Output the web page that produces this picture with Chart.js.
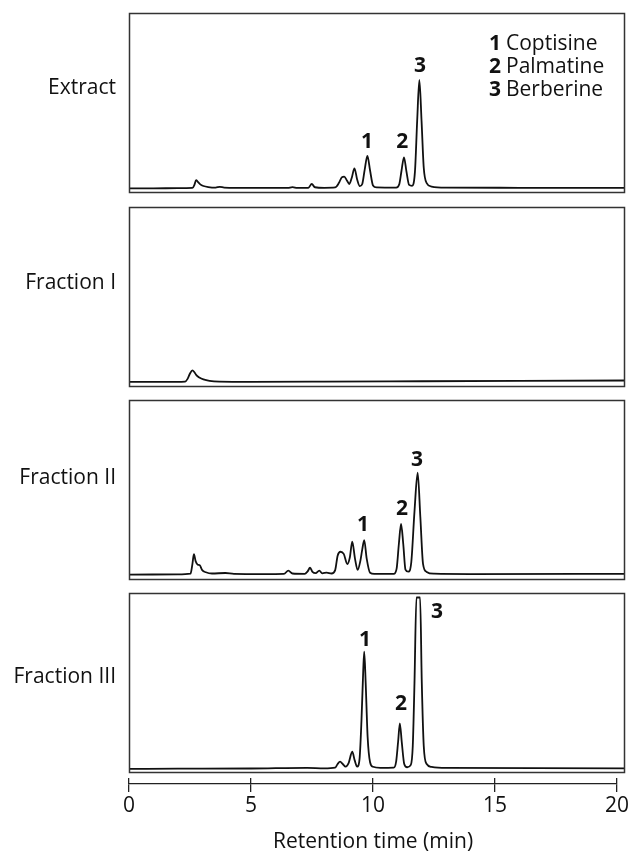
<!DOCTYPE html>
<html>
<head>
<meta charset="utf-8">
<script src="https://cdn.jsdelivr.net/npm/chart.js@4.4.1/dist/chart.umd.min.js"></script>
<style>
html,body{margin:0;padding:0;background:#fff;}
#wrap{position:relative;width:632px;height:851px;overflow:hidden;background:#fff;}
canvas{position:absolute;left:0;}
</style>
</head>
<body>
<div id="wrap">
<canvas id="p1" width="632" height="190"></canvas>
<canvas id="p2" width="632" height="190"></canvas>
<canvas id="p3" width="632" height="190"></canvas>
<canvas id="p4" width="632" height="190"></canvas>
<canvas id="axis" width="632" height="73"></canvas>
</div>
<script>
// ---------------- DATA ----------------
const panelNames = ['Extract', 'Fraction I', 'Fraction II', 'Fraction III'];
const compoundNumbers = ['1', '2', '3'];
const compoundNames = ['Coptisine', 'Palmatine', 'Berberine'];
const xTicks = [0, 5, 10, 15, 20];
const xTitle = 'Retention time (min)';

// Extract trace: retention time (min) and detector signal (relative units)
const extractTime   = [0.00,1.00,2.00,2.60,2.68,2.75,2.82,2.92,3.05,3.25,3.55,3.72,3.90,5.00,6.50,6.70,6.90,7.35,7.49,7.62,8.00,8.45,8.60,8.72,8.82,8.93,9.03,9.13,9.24,9.35,9.46,9.56,9.66,9.77,9.88,10.00,10.15,10.95,11.08,11.17,11.27,11.37,11.48,11.60,11.72,11.81,11.90,11.99,12.08,12.20,12.40,13.00,16.00,20.33];
const extractSignal = [2.6,2.6,2.7,2.8,4.5,7.2,6.2,4.8,3.9,3.3,3.0,3.4,3.0,2.8,2.8,3.3,2.8,2.9,5.0,3.2,2.9,3.1,5.5,8.7,9.1,7.0,5.0,8.5,13.7,7.5,3.8,5.0,13.0,20.6,12.5,4.2,3.1,3.0,5.0,12.5,19.8,12.0,4.5,4.0,12.0,40.0,62.8,40.0,14.0,5.5,3.6,3.0,2.9,2.8];

// Fraction I trace
const fraction1Time   = [0.00,1.50,2.30,2.40,2.50,2.60,2.68,2.76,2.88,3.05,3.30,3.70,5.00,8.00,12.00,16.00,20.33];
const fraction1Signal = [2.8,2.8,3.0,4.5,7.5,9.2,8.2,6.6,5.3,4.2,3.4,3.0,2.9,3.0,3.2,3.4,3.6];

// Fraction II trace
const fraction2Time   = [0.00,2.00,2.52,2.60,2.66,2.73,2.82,2.90,3.00,3.15,3.40,3.95,4.30,5.50,6.35,6.53,6.70,7.20,7.32,7.42,7.52,7.65,7.80,7.92,8.10,8.30,8.45,8.55,8.67,8.80,8.95,9.05,9.15,9.26,9.37,9.48,9.56,9.64,9.74,9.88,10.05,10.85,10.97,11.06,11.15,11.24,11.33,11.45,11.57,11.70,11.83,11.94,12.05,12.20,12.50,14.00,20.33];
const fraction2Signal = [3.0,3.1,3.5,9.0,14.3,10.5,8.5,8.2,5.5,4.3,3.6,3.9,3.4,3.3,3.4,5.2,3.6,3.4,4.8,6.8,4.5,3.8,5.2,3.7,4.1,3.6,5.5,13.5,15.7,14.5,8.9,12.5,21.3,12.0,5.6,10.5,17.0,22.2,12.0,4.0,3.4,3.4,6.5,20.0,31.1,20.0,5.8,4.6,10.0,38.0,59.6,35.0,9.0,4.5,3.5,3.3,3.4];

// Fraction III trace (berberine peak off scale, flat top)
const fraction3Time   = [0.00,2.00,5.00,7.30,8.00,8.45,8.55,8.65,8.76,8.88,9.00,9.15,9.25,9.35,9.45,9.53,9.60,9.64,9.70,9.78,9.88,10.00,10.30,10.85,10.95,11.03,11.10,11.18,11.28,11.40,11.55,11.63,11.70,11.78,11.93,12.00,12.08,12.20,12.40,13.00,20.33];
const fraction3Signal = [2.3,2.4,2.5,2.9,2.6,3.0,5.0,6.3,5.0,3.5,5.5,11.8,7.0,3.5,8.0,30.0,57.0,67.4,50.0,20.0,6.0,3.5,2.9,3.0,6.5,17.5,27.6,17.0,5.0,3.2,4.5,15.0,50.0,97.5,97.5,50.0,15.0,5.0,3.4,2.8,2.6];

// Peak-number label anchors (time, signal) per panel
const extractLabelTime   = [9.75, 11.20, 11.93];
const extractLabelSignal = [28.3, 28.3, 70.6];
const fraction2LabelTime   = [9.59, 11.19, 11.80];
const fraction2LabelSignal = [30.6, 39.4, 66.7];
const fraction3LabelTime   = [9.67, 11.15, 12.62];
const fraction3LabelSignal = [73.9, 38.3, 89.4];

// ---------------- LAYOUT / STYLE ----------------
const FONT = '"Open Sans", "Noto Sans", sans-serif';
const FS = 21;
const PAD = 5;
const BOX_LEFT = 129, BOX_RIGHT = 625, TICK20 = 617;
const X_MAX = 20 * (BOX_RIGHT - BOX_LEFT) / (TICK20 - BOX_LEFT);
const panelTops = [13, 207, 400, 593];
const nameCenterSignal = [58.3, 57.8, 56.7, 53.3];
const INK = '#111';

function framePlugin(idx, labelT, labelS, withLegend) {
  return {
    id: 'frame' + idx,
    afterDraw(chart) {
      const ctx = chart.ctx, a = chart.chartArea;
      const xs = chart.scales.x, ys = chart.scales.y;
      ctx.save();
      ctx.strokeStyle = '#333';
      ctx.lineWidth = 1.5;
      ctx.strokeRect(a.left + 0.5, a.top + 0.5, a.right - a.left - 1, a.bottom - a.top - 1);
      // panel name
      ctx.fillStyle = INK;
      ctx.font = FS + 'px ' + FONT;
      ctx.textAlign = 'right';
      ctx.textBaseline = 'middle';
      ctx.fillText(panelNames[idx], 116, ys.getPixelForValue(nameCenterSignal[idx]));
      // peak labels
      if (labelT) {
        ctx.font = 'bold ' + FS + 'px ' + FONT;
        ctx.textAlign = 'center';
        for (let i = 0; i < labelT.length; i++) {
          ctx.fillText(compoundNumbers[i], xs.getPixelForValue(labelT[i]), ys.getPixelForValue(labelS[i]));
        }
      }
      // legend
      if (withLegend) {
        ctx.textAlign = 'left';
        const lx = 489;
        for (let i = 0; i < compoundNames.length; i++) {
          const ly = a.top + 31 + i * 22.8;
          ctx.font = 'bold ' + FS + 'px ' + FONT;
          ctx.fillText(compoundNumbers[i], lx, ly);
          const w = ctx.measureText(compoundNumbers[i]).width;
          ctx.font = FS + 'px ' + FONT;
          ctx.fillText(compoundNames[i], lx + w + 5, ly);
        }
      }
      ctx.restore();
    }
  };
}

function makePanel(idx, times, signal, labelT, labelS, withLegend) {
  const canvas = document.getElementById('p' + (idx + 1));
  canvas.style.top = (panelTops[idx] - PAD) + 'px';
  return new Chart(canvas, {
    type: 'line',
    data: {
      datasets: [{
        data: times.map((t, i) => ({ x: t, y: signal[i] })),
        borderColor: INK,
        borderWidth: 1.8,
        pointRadius: 0,
        cubicInterpolationMode: 'monotone',
        fill: false
      }]
    },
    options: {
      responsive: false,
      animation: false,
      events: [],
      layout: { padding: { left: BOX_LEFT, right: 632 - BOX_RIGHT, top: PAD, bottom: PAD } },
      scales: {
        x: { type: 'linear', min: 0, max: X_MAX, display: false },
        y: { type: 'linear', min: 0, max: 100, display: false }
      },
      plugins: { legend: { display: false }, tooltip: { enabled: false } }
    },
    plugins: [framePlugin(idx, labelT, labelS, withLegend)]
  });
}

makePanel(0, extractTime, extractSignal, extractLabelTime, extractLabelSignal, true);
makePanel(1, fraction1Time, fraction1Signal, null, null, false);
makePanel(2, fraction2Time, fraction2Signal, fraction2LabelTime, fraction2LabelSignal, false);
makePanel(3, fraction3Time, fraction3Signal, fraction3LabelTime, fraction3LabelSignal, false);

// ---------------- X AXIS ----------------
const axisCanvas = document.getElementById('axis');
axisCanvas.style.top = '778px';
new Chart(axisCanvas, {
  type: 'line',
  data: { datasets: [] },
  options: {
    responsive: false,
    animation: false,
    events: [],
    layout: { padding: { left: BOX_LEFT, right: 632 - TICK20, top: 0, bottom: 0 } },
    scales: {
      x: {
        type: 'linear', min: xTicks[0], max: xTicks[xTicks.length - 1], position: 'bottom',
        afterBuildTicks: (s) => { s.ticks = xTicks.map(v => ({ value: v })); },
        afterFit: (s) => { s.height = 67; },
        ticks: { color: INK, font: { family: FONT, size: FS, lineHeight: 1.15 }, padding: 1.5, maxRotation: 0, autoSkip: false },
        grid: { color: '#222', lineWidth: 1.3, drawOnChartArea: true, drawTicks: true, tickLength: 8 },
        border: { display: true, color: '#222', width: 1.3 },
        title: { display: true, text: xTitle, color: INK, font: { family: FONT, size: FS, lineHeight: 0.9 }, padding: { top: 0, bottom: 0 } }
      },
      y: { min: 0, max: 1, display: false }
    },
    plugins: { legend: { display: false }, tooltip: { enabled: false } }
  }
});
</script>
</body>
</html>
